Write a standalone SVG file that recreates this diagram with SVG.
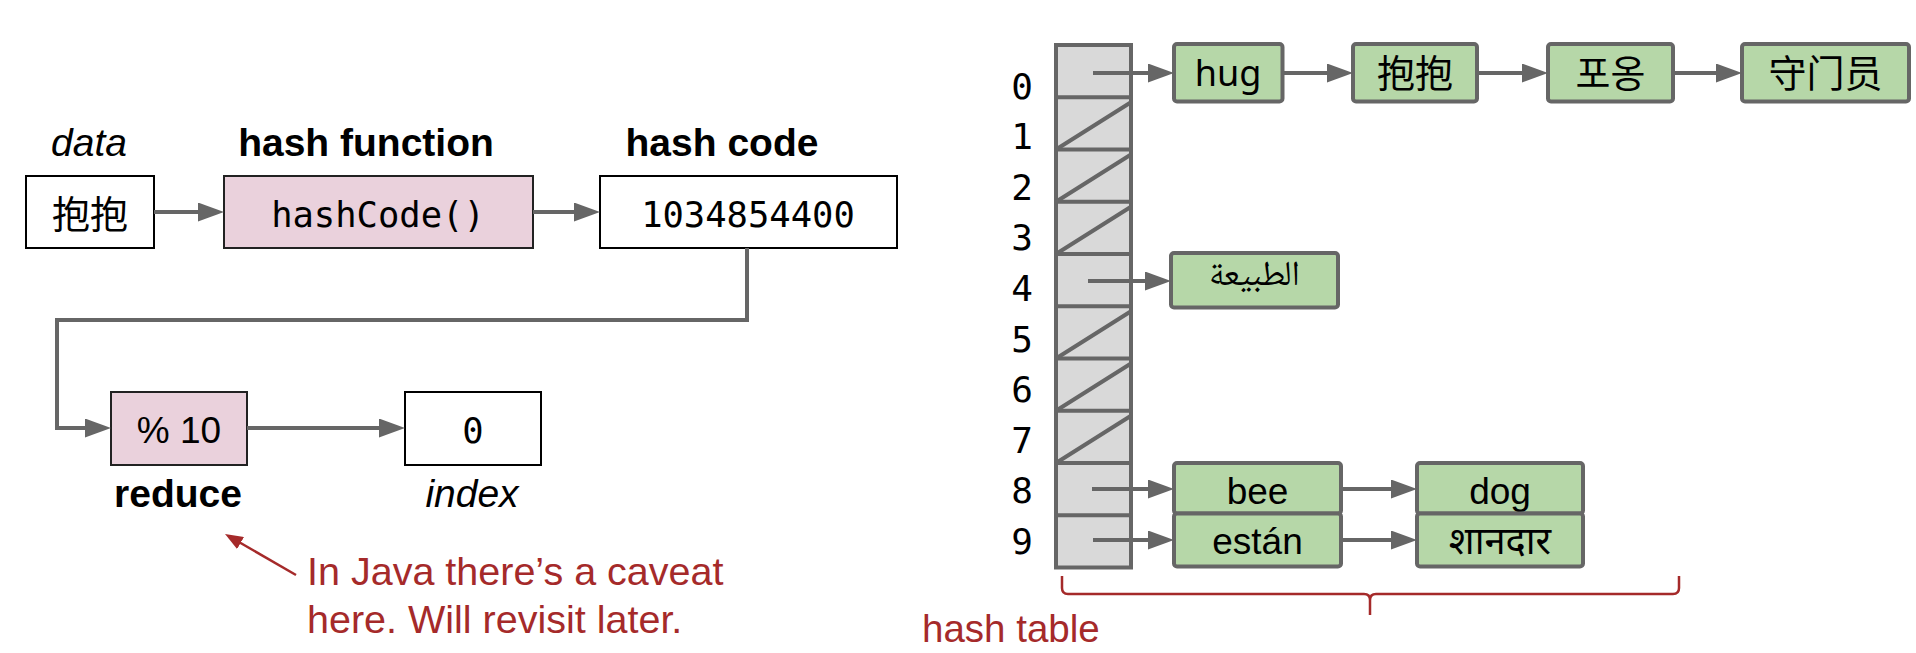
<svg xmlns="http://www.w3.org/2000/svg" width="1916" height="653" viewBox="0 0 1916 653">
<style>
.lbl{font-family:"Liberation Sans",Arial,sans-serif;font-size:39px;fill:#000;text-anchor:middle}
.b{font-weight:bold}
.i{font-style:italic}
.mono{font-family:"DejaVu Sans Mono","Liberation Mono",monospace;font-size:35.5px;text-anchor:middle;fill:#000}
.cjk{font-family:"Noto Sans CJK SC","Noto Sans CJK KR",sans-serif;font-size:38px;text-anchor:middle;fill:#000}
.wbox{fill:#fff;stroke:#000;stroke-width:2}
.pbox{fill:#ead1dc;stroke:#222;stroke-width:2}
.gbox{fill:#b6d7a8;stroke:#666;stroke-width:4}
.conn{fill:none;stroke:#666;stroke-width:4}
.red{fill:#a52a2a;font-family:"Liberation Sans",Arial,sans-serif;font-size:39.5px}
.tl{stroke:#666;stroke-width:4;fill:none}
</style>
<defs>
<marker id="ah" markerUnits="userSpaceOnUse" markerWidth="26" markerHeight="19" refX="16" refY="9.5" orient="auto">
<path d="M0,0 L26,9.5 L0,19 z" fill="#666"/>
</marker>
<marker id="rh" markerUnits="userSpaceOnUse" markerWidth="18" markerHeight="14" refX="12" refY="7" orient="auto">
<path d="M0,0 L18,7 L0,14 z" fill="#a52a2a"/>
</marker>
</defs>

<!-- Left pipeline -->
<g id="label-data"><text class="lbl i" x="89" y="156">data</text></g>
<g id="label-hashfunction"><text class="lbl b" x="366" y="156">hash function</text></g>
<g id="label-hashcode"><text class="lbl b" x="722" y="156">hash code</text></g>

<g id="node-data"><rect class="wbox" x="26" y="176" width="128" height="72"/><text class="cjk" x="90" y="228">抱抱</text></g>
<g id="node-hashfunction"><rect class="pbox" x="224" y="176" width="309" height="72"/><text class="mono" x="378" y="227">hashCode()</text></g>
<g id="node-hashcode"><rect class="wbox" x="600" y="176" width="297" height="72"/><text class="mono" x="748" y="227">1034854400</text></g>
<g id="node-reduce"><rect class="pbox" x="111" y="392" width="136" height="73"/><text class="lbl" x="179" y="443" style="font-size:37px">% 10</text></g>
<g id="node-index"><rect class="wbox" x="405" y="392" width="136" height="73"/><text class="mono" x="473" y="443">0</text></g>
<g id="label-reduce"><text class="lbl b" x="178" y="507">reduce</text></g>
<g id="label-index"><text class="lbl i" x="472" y="507">index</text></g>

<g id="note">
<text class="red" x="307" y="585">In Java there’s a caveat</text>
<text class="red" x="307" y="633">here. Will revisit later.</text>
</g>

<!-- Hash table -->
<g id="hash-table">
<rect x="1056" y="45" width="75" height="522.5" fill="#d9d9d9" stroke="#666" stroke-width="4"/>
<path class="tl" d="M1056,97.25H1131M1056,149.5H1131M1056,201.75H1131M1056,254H1131M1056,306.25H1131M1056,358.5H1131M1056,410.75H1131M1056,463H1131M1056,515.25H1131"/>
<path class="tl" d="M1056,149.5L1131,102.25M1056,201.75L1131,154.5M1056,254L1131,206.75M1056,358.5L1131,311.25M1056,410.75L1131,363.5M1056,463L1131,415.75"/>
</g>
<g id="row-labels" font-family="DejaVu Sans Mono,Liberation Mono,monospace" font-size="36" text-anchor="middle">
<text x="1022" y="98.5">0</text>
<text x="1022" y="149.1">1</text>
<text x="1022" y="199.7">2</text>
<text x="1022" y="250.3">3</text>
<text x="1022" y="300.9">4</text>
<text x="1022" y="351.5">5</text>
<text x="1022" y="402.1">6</text>
<text x="1022" y="452.7">7</text>
<text x="1022" y="503.3">8</text>
<text x="1022" y="553.9">9</text>
</g>

<g id="node-hug"><rect class="gbox" x="1174" y="44" width="108.5" height="57.5" rx="3"/><text x="1228" y="86" font-family="Noto Sans,Open Sans,sans-serif" font-size="36" text-anchor="middle">hug</text></g>
<g id="node-baobao"><rect class="gbox" x="1353" y="44" width="124" height="57.5" rx="3"/><text class="cjk" x="1415" y="87">抱抱</text></g>
<g id="node-poong"><rect class="gbox" x="1548" y="44" width="125" height="57.5" rx="3"/><text class="cjk" x="1610.5" y="87" style="font-family:'Noto Sans CJK KR',sans-serif">포옹</text></g>
<g id="node-shoumenyuan"><rect class="gbox" x="1742" y="44" width="167" height="57.5" rx="3"/><text class="cjk" x="1825.5" y="87">守门员</text></g>
<g id="node-arabic"><rect class="gbox" x="1171" y="253" width="167" height="54.5" rx="3"/><text x="1254.5" y="285" font-family="Noto Naskh Arabic,DejaVu Sans,sans-serif" font-size="35" text-anchor="middle">الطبيعة</text></g>
<g id="node-bee"><rect class="gbox" x="1174" y="463" width="167" height="50.5" rx="3"/><text class="lbl" x="1257.5" y="503.5" style="font-size:37px">bee</text></g>
<g id="node-estan"><rect class="gbox" x="1174" y="513.5" width="167" height="53" rx="3"/><text class="lbl" x="1257.5" y="553.5" style="font-size:37px">están</text></g>
<g id="node-dog"><rect class="gbox" x="1417" y="463" width="166" height="50.5" rx="3"/><text class="lbl" x="1500" y="504" style="font-size:37px">dog</text></g>
<g id="node-shandar"><rect class="gbox" x="1417" y="513.5" width="166" height="53" rx="3"/><text x="1500" y="554" font-family="Noto Sans Devanagari,Noto Sans,sans-serif" font-size="38" text-anchor="middle">शानदार</text></g>

<g id="brace">
<path d="M1062,576 L1062,588 Q1062,594 1068,594 L1364,594 Q1370,594 1370,600 L1370,615 M1370,600 Q1370,594 1376,594 L1673,594 Q1679,594 1679,588 L1679,576" fill="none" stroke="#a52a2a" stroke-width="2.5"/>
<text class="red" x="922" y="642" style="font-size:38.5px">hash table</text>
</g>

<g id="connectors">
<path class="conn" d="M154,212 L214,212" marker-end="url(#ah)"/>
<path class="conn" d="M533,212 L590,212" marker-end="url(#ah)"/>
<path class="conn" d="M747,248 L747,320 L57,320 L57,428 L101,428" marker-end="url(#ah)"/>
<path class="conn" d="M247,428 L395,428" marker-end="url(#ah)"/>
<path d="M296,575 L230.2,537" fill="none" stroke="#a52a2a" stroke-width="2.5" marker-end="url(#rh)"/>
<path class="conn" d="M1093,73 L1164,73" marker-end="url(#ah)"/>
<path class="conn" d="M1282.5,73 L1343,73" marker-end="url(#ah)"/>
<path class="conn" d="M1477,73 L1538,73" marker-end="url(#ah)"/>
<path class="conn" d="M1673,73 L1732,73" marker-end="url(#ah)"/>
<path class="conn" d="M1088,281 L1161,281" marker-end="url(#ah)"/>
<path class="conn" d="M1092,489 L1164,489" marker-end="url(#ah)"/>
<path class="conn" d="M1341,489 L1407,489" marker-end="url(#ah)"/>
<path class="conn" d="M1093,540 L1164,540" marker-end="url(#ah)"/>
<path class="conn" d="M1341,540 L1407,540" marker-end="url(#ah)"/>
</g>
</svg>
